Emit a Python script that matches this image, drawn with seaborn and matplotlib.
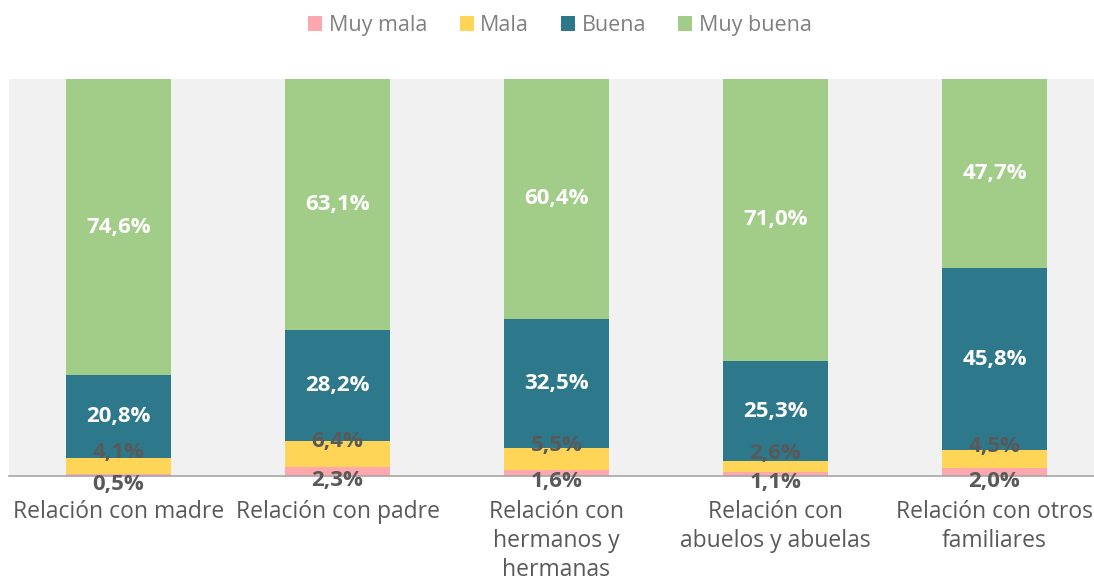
import matplotlib
matplotlib.use("Agg")
import matplotlib.pyplot as plt
import matplotlib.transforms as mtransforms
from matplotlib.patches import Patch
import seaborn as sns
import pandas as pd
import numpy as np

categories = [
    "Relación con madre",
    "Relación con padre",
    "Relación con\nhermanos y\nhermanas",
    "Relación con\nabuelos y abuelas",
    "Relación con otros\nfamiliares",
]
series = ["Muy mala", "Mala", "Buena", "Muy buena"]
muy_mala = [0.5, 2.3, 1.6, 1.1, 2.0]
mala = [4.1, 6.4, 5.5, 2.6, 4.5]
buena = [20.8, 28.2, 32.5, 25.3, 45.8]
muy_buena = [74.6, 63.1, 60.4, 71.0, 47.7]

colors = ["#FFA7AE", "#FFD558", "#2E788C", "#A2CD88"]
label_colors = ["#595959", "#595959", "white", "white"]

sns.set_style("white")
plt.rcParams['font.family'] = ['Open Sans', 'DejaVu Sans']

df = pd.DataFrame({"cat": categories, "Muy mala": muy_mala, "Mala": mala,
                   "Buena": buena, "Muy buena": muy_buena})
values = df[series].to_numpy()
cum = values.cumsum(axis=1)

fig = plt.figure(figsize=(10.94, 5.83), dpi=100)
ax = fig.add_axes([9 / 1094, 107 / 583, 1095 / 1094, 397 / 583])
ax.set_facecolor("#F1F1F1")

# stacked bars: draw cumulative totals from the top segment down
for i in range(len(series) - 1, -1, -1):
    sns.barplot(x=df["cat"], y=cum[:, i], color=colors[i], width=0.475,
                saturation=1, ax=ax, linewidth=0)

ax.set_xlim(-0.5, 4.5)
ax.set_ylim(0, 100)
ax.set_xlabel("")
ax.set_ylabel("")
ax.set_yticks([])

# data labels; the two small segments get nudged apart like in Excel
offsets = [9, -13, 0, 0]
for j in range(len(categories)):
    for i in range(len(series)):
        center = cum[j, i] - values[j, i] / 2
        tr = ax.transData + mtransforms.ScaledTranslation(0, -offsets[i] / 100, fig.dpi_scale_trans)
        ax.text(j, center, f"{values[j, i]:.1f}%".replace(".", ","),
                ha="center", va="center", fontsize=16, fontweight="bold",
                color=label_colors[i], transform=tr)

for s in ["top", "right", "left"]:
    ax.spines[s].set_visible(False)
ax.spines["bottom"].set_color("#A6A6A6")
ax.spines["bottom"].set_linewidth(1.2)
ax.set_xticks(np.arange(-0.5, 5, 1), minor=True)
ax.tick_params(axis="x", which="minor", length=7, color="#A6A6A6", width=1.2)
ax.tick_params(axis="x", which="major", length=0, pad=17, labelsize=16.5, labelcolor="#595959")
for lbl in ax.get_xticklabels():
    lbl.set_linespacing(1.3)
    lbl.set_va("top")

handles = [Patch(facecolor=c, edgecolor="none") for c in colors]
fig.legend(handles, series, loc="center", bbox_to_anchor=(0.512, 0.956), ncol=4,
           frameon=False, fontsize=15.5, labelcolor="#808080", handlelength=0.65,
           handleheight=0.65, handletextpad=0.3, columnspacing=1.5)

fig.savefig("out.png", dpi=100)
